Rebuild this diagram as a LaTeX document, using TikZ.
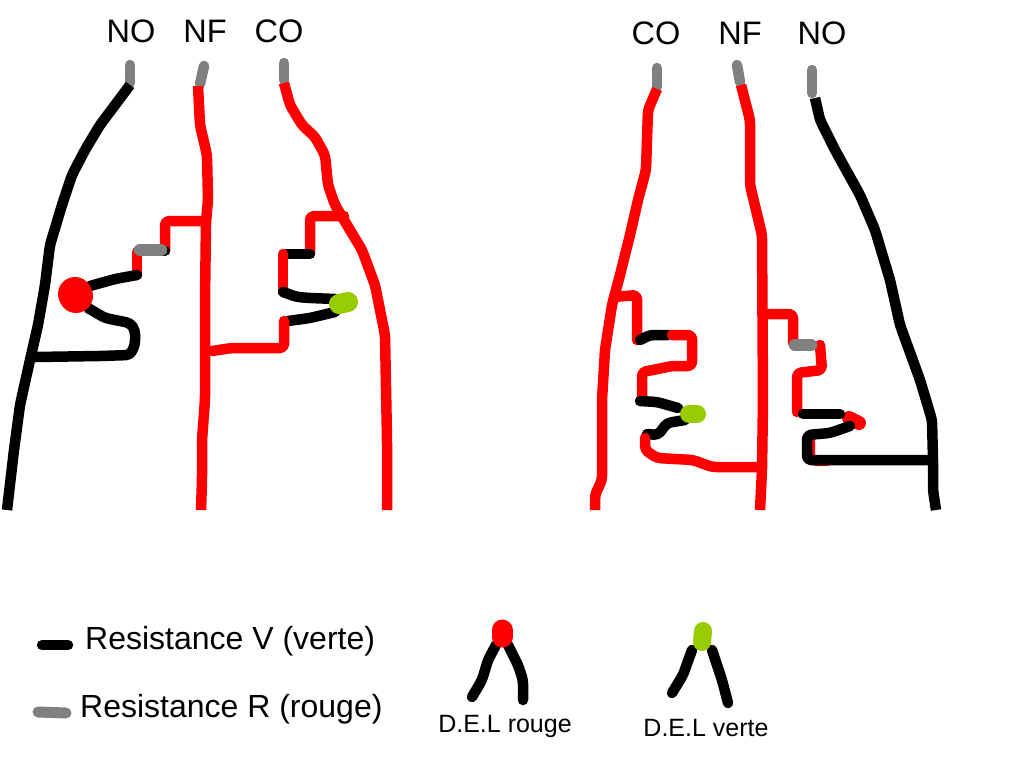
\documentclass[tikz,border=0pt]{standalone}
\usepackage{fontspec}
\setmainfont{Liberation Sans}
\definecolor{rougefil}{RGB}{255,0,0}
\definecolor{grisfil}{RGB}{128,128,128}
\definecolor{vertdel}{RGB}{153,204,0}
\tikzset{
  fil/.style={line width=10.5pt,line cap=round,line join=round,rounded corners=4pt},
  rouge/.style={fil,draw=rougefil},
  noir/.style={fil,draw=black},
  gris/.style={fil,draw=grisfil},
  resgris/.style={gris,line width=12.5pt},
  borne/.style={font=\fontsize{32.5}{32}\selectfont,inner sep=0pt},
  legende/.style={font=\fontsize{32}{32}\selectfont,anchor=base west,inner sep=0pt},
  titre/.style={font=\fontsize{25}{25}\selectfont,inner sep=0pt},
  delrouge/.style={line cap=round,draw=rougefil,line width=#1},
  delverte/.style={line cap=round,draw=vertdel,line width=#1}
}
\begin{document}
\begin{tikzpicture}[x=1pt,y=-1pt]
    \useasboundingbox (0,0) rectangle (1024,768);
    \node[borne](no1) at (131,31) {NO};
    \node[borne](nf1) at (205,31) {NF};
    \node[borne](co1) at (279,31) {CO};
    \node[borne](co2) at (656,33) {CO};
    \node[borne](nf2) at (740,33) {NF};
    \node[borne](no2) at (822,33) {NO};
    \begin{scope}
        \draw[gris] (130,65)--(130,83);
        \draw[gris] (204,66)--(200,84);
        \draw[gris] (284,63)--(284,80);
        \draw[noir,line cap=butt] (130,85)--(115,105)--(100,125)--(85,150)--(72,175)--(62,205)--(50,245)--(45,285)--(38,325)--(30,360)--(20,405)--(14,450)--(7,510);
        \draw[rouge,line cap=butt] (198,86)--(200,125)--(207,155)--(208,200)--(206,222)--(205,300)--(205,400)--(202,440)--(202,480)--(201,510);
        \draw[rouge,line cap=butt] (284,83)--(290,105)--(302,125)--(315,137)--(325,155)--(328,185)--(335,205)--(344,220)--(362,250)--(375,285)--(385,335)--(387,440)--(387,510);
        \draw[rouge] (205,221)--(165,221)--(165,250);
        \draw[rouge] (137,252)--(137,275);
        \draw[noir] (160,251)--(165,251);
        \draw[resgris] (140,250)--(161,250);
        \draw[noir] (137,275)--(115,279)--(90,286);
        \draw[noir] (88,308)--(105,318)--(130,323)--(135,330)--(135,345)--(130,355)--(100,356)--(35,357);
        \draw[delrouge=34pt] (75,294)--(76,296);
        \draw[rouge] (344,216)--(310,216)--(310,252);
        \draw[noir] (310,254)--(286,254);
        \draw[rouge] (283,254)--(283,290);
        \draw[noir] (283,292)--(297,297)--(310,298)--(335,299);
        \draw[noir] (335,312)--(310,318)--(288,321);
        \draw[rouge] (284,321)--(284,348)--(232,348)--(212,351);
        \draw[delverte=20pt] (339,304)--(348,302);
    \end{scope}
    \begin{scope}
        \draw[gris] (657,68)--(657,87);
        \draw[gris] (737,65)--(740,82);
        \draw[gris] (812,70)--(812,93);
        \draw[rouge,line cap=butt] (657,89)--(648,110)--(646,170)--(638,200)--(630,235)--(620,275)--(612,305)--(605,350)--(602,400)--(602,480)--(595,495)--(595,510);
        \draw[rouge,line cap=butt] (741,85)--(750,120)--(750,185)--(762,235)--(763,400)--(762,470)--(760,510);
        \draw[noir,line cap=butt] (815,98)--(820,120)--(835,150)--(860,195)--(875,230)--(890,280)--(900,325)--(920,380)--(932,420)--(933,460)--(933,490)--(936,510);
        \draw[rouge] (614,297)--(637,295)--(637,340);
        \draw[noir] (640,340)--(650,335)--(668,335);
        \draw[rouge] (672,335)--(692,335)--(692,366)--(672,366)--(653,370)--(642,372)--(642,398);
        \draw[noir] (640,401)--(657,402)--(678,408);
        \draw[noir] (685,420)--(667,423)--(658,435)--(647,434);
        \draw[rouge] (645,438)--(645,450)--(657,458)--(693,460)--(712,467)--(760,467);
        \draw[delverte=18pt] (689,414)--(697,414);
        \draw[rouge] (763,314)--(793,314)--(793,343);
        \draw[rouge] (820,345)--(822,370)--(797,373)--(797,412);
        \draw[resgris] (795,345)--(811,345);
        \draw[rouge,line width=6pt] (812,440)--(812,463)--(828,463);
        \draw[delrouge=14pt] (849,418)--(859,423);
        \draw[noir] (803,414)--(840,414);
        \draw[noir] (850,426)--(830,433)--(807,435)--(807,460)--(933,460);
    \end{scope}
    \draw[noir,line width=10.5pt] (42,645)--(68,645);
    \draw[resgris,line width=11pt] (38,712)--(66,713);
    \node[legende](resv) at (85,649) {Resistance V (verte)};
    \node[legende](resr) at (80,717) {Resistance R (rouge)};
    \draw[noir] (496,645)--(488,660)--(482,680)--(472,697);
    \draw[noir] (508,645)--(518,665)--(523,680)--(523,700);
    \draw[delrouge=21pt] (502,630)--(502,637);
    \draw[noir] (692,650)--(683,675)--(672,693);
    \draw[noir] (712,650)--(722,680)--(728,703);
    \draw[delverte=18pt] (703,631)--(702,642);
    \node[titre](delr) at (505,726) {D.E.L rouge};
    \node[titre](delv) at (706,728) {D.E.L verte};
\end{tikzpicture}
\end{document}
